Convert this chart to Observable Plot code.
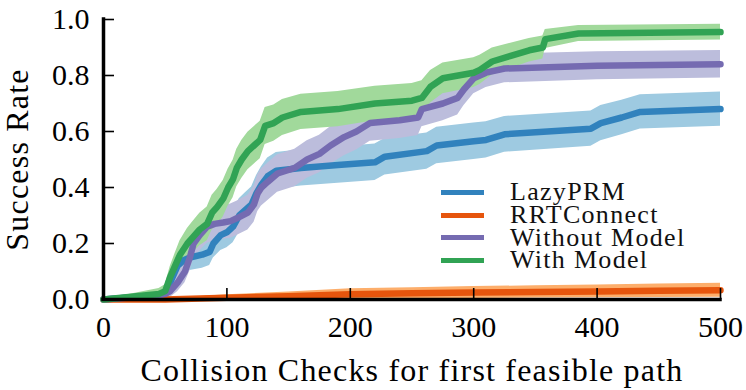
<!DOCTYPE html>
<html>
<head>
<meta charset="utf-8">
<script src="https://cdn.jsdelivr.net/npm/d3@7"></script>
<script src="https://cdn.jsdelivr.net/npm/@observablehq/plot@0.6"></script>
<style>
  html, body { margin: 0; padding: 0; background: white; }
  #wrap { position: relative; width: 746px; height: 390px; }
  #legend { position: absolute; left: 441px; top: 181px; font-family: "Liberation Serif", "Times New Roman", "DejaVu Serif", serif; font-size: 26px; letter-spacing: 1.3px; color: #111; }
  .row { display: flex; align-items: center; height: 22.8px; white-space: nowrap; }
  .sw { width: 43px; height: 5px; margin-right: 26px; flex: none; }
  .lab { display: inline-block; height: 22.8px; line-height: 22.8px; }
</style>
</head>
<body>
<div id="wrap"></div>
<script>
// ---- data ----
const seriesNames = ["LazyPRM", "RRTConnect", "Without Model", "With Model"];
const lineColors = ["#3182bd", "#e6550d", "#756bb1", "#31a354"];
const bandColors = ["#9ecae1", "#fdae6b", "#bcbddc", "#a1d99b"];

const xTicks = [0, 100, 200, 300, 400, 500];
const yTicks = [0, 0.2, 0.4, 0.6, 0.8, 1.0];

const lazyX = [0, 45, 50, 55, 60, 65, 70, 80, 86, 89, 95, 100, 105, 110, 115, 120, 124, 128, 133, 140, 160, 190, 220, 228, 262, 270, 300, 310, 325, 395, 403, 420, 435, 500];
const lazyY = [0, 0.015, 0.02, 0.07, 0.12, 0.14, 0.15, 0.16, 0.17, 0.20, 0.23, 0.24, 0.26, 0.30, 0.32, 0.34, 0.38, 0.41, 0.44, 0.46, 0.47, 0.48, 0.49, 0.51, 0.53, 0.55, 0.565, 0.57, 0.59, 0.61, 0.63, 0.65, 0.67, 0.68];
const lazyErr = [0, 0.016, 0.018, 0.033, 0.042, 0.045, 0.046, 0.048, 0.049, 0.052, 0.055, 0.055, 0.057, 0.06, 0.061, 0.062, 0.063, 0.064, 0.065, 0.065, 0.065, 0.065, 0.065, 0.065, 0.065, 0.065, 0.065, 0.065, 0.064, 0.063, 0.063, 0.062, 0.061, 0.061];

const rrtX = [0, 50, 100, 150, 200, 250, 300, 350, 400, 450, 500];
const rrtY = [0, 0, 0.006, 0.012, 0.019, 0.022, 0.025, 0.027, 0.029, 0.031, 0.033];
const rrtErr = [0, 0.003, 0.011, 0.015, 0.019, 0.02, 0.021, 0.022, 0.023, 0.024, 0.025];

const woX = [0, 45, 50, 54, 60, 66, 70, 73, 78, 84, 90, 97, 103, 108, 117, 122, 125, 128, 133, 141, 155, 165, 175, 184, 195, 205, 216, 240, 255, 258, 275, 287, 292, 300, 310, 325, 400, 500];
const woY = [0, 0.015, 0.02, 0.03, 0.06, 0.10, 0.15, 0.20, 0.23, 0.26, 0.27, 0.275, 0.28, 0.29, 0.31, 0.34, 0.38, 0.40, 0.42, 0.45, 0.47, 0.50, 0.52, 0.55, 0.58, 0.60, 0.63, 0.64, 0.65, 0.68, 0.70, 0.72, 0.75, 0.79, 0.81, 0.825, 0.835, 0.84];
const woErr = [0, 0.016, 0.019, 0.023, 0.032, 0.04, 0.048, 0.054, 0.057, 0.059, 0.06, 0.06, 0.061, 0.061, 0.062, 0.064, 0.066, 0.066, 0.067, 0.067, 0.067, 0.067, 0.067, 0.067, 0.067, 0.066, 0.065, 0.065, 0.064, 0.063, 0.062, 0.061, 0.058, 0.055, 0.053, 0.051, 0.05, 0.049];

const wX = [0, 45, 50, 54, 58, 62, 68, 72, 78, 84, 88, 92, 97, 101, 105, 108, 112, 117, 122, 127, 131, 138, 145, 160, 190, 220, 250, 258, 265, 275, 300, 305, 315, 330, 345, 356, 358, 385, 500];
const wY = [0, 0.02, 0.03, 0.08, 0.12, 0.16, 0.20, 0.22, 0.25, 0.27, 0.31, 0.33, 0.36, 0.40, 0.43, 0.47, 0.50, 0.53, 0.55, 0.57, 0.62, 0.63, 0.65, 0.67, 0.68, 0.70, 0.71, 0.72, 0.76, 0.79, 0.81, 0.82, 0.85, 0.87, 0.89, 0.90, 0.93, 0.95, 0.955];
const wErr = [0, 0.019, 0.023, 0.037, 0.044, 0.05, 0.054, 0.056, 0.058, 0.06, 0.062, 0.063, 0.065, 0.066, 0.067, 0.067, 0.068, 0.067, 0.067, 0.067, 0.066, 0.065, 0.064, 0.063, 0.063, 0.062, 0.061, 0.061, 0.058, 0.055, 0.053, 0.052, 0.048, 0.045, 0.042, 0.041, 0.034, 0.029, 0.028];

// ---- build table ----
const rawSeries = [
  [lazyX, lazyY, lazyErr],
  [rrtX, rrtY, rrtErr],
  [woX, woY, woErr],
  [wX, wY, wErr]
];
const tables = rawSeries.map(([xs, ys, es], i) =>
  xs.map((x, j) => ({
    series: seriesNames[i],
    x,
    y: ys[j],
    lo: Math.max(0, ys[j] - es[j]),
    hi: Math.min(1, ys[j] + es[j])
  }))
);

const W = 746, H = 390;
const mL = 103, mR = 26, mT = 19, mB = 91;
const innerW = W - mL - mR, innerH = H - mT - mB;
const tickLen = 11;
const font = "'Liberation Serif', 'Times New Roman', 'DejaVu Serif', serif";

const marks = [];
tables.forEach((t, i) => {
  marks.push(Plot.areaY(t, {x: "x", y1: "lo", y2: "hi", fill: bandColors[i], clip: true}));
});
tables.forEach((t, i) => {
  marks.push(Plot.lineY(t, {x: "x", y: "y", stroke: lineColors[i], strokeWidth: 6.5}));
});
// inward ticks
marks.push(Plot.tickX(xTicks, {x: d => d, insetTop: innerH - tickLen, stroke: "black", strokeWidth: 1.6}));
marks.push(Plot.tickY(yTicks, {y: d => d, insetRight: innerW - tickLen, stroke: "black", strokeWidth: 1.6}));
// spines
marks.push(Plot.ruleX([0], {stroke: "black", strokeWidth: 3.5, strokeLinecap: "square"}));
marks.push(Plot.ruleY([0], {stroke: "black", strokeWidth: 3.5, strokeLinecap: "square"}));
// axes labels
marks.push(Plot.axisX({ticks: xTicks, tickSize: 0, tickPadding: 16, fontSize: 30,
  label: "Collision Checks for first feasible path", labelAnchor: "center", labelOffset: 81, labelArrow: "none"}));
marks.push(Plot.axisY({ticks: yTicks, tickSize: 0, tickPadding: 14, fontSize: 30, tickFormat: d3.format(".1f"),
  label: "Success Rate", labelAnchor: "center", labelOffset: 98, labelArrow: "none"}));

const chart = Plot.plot({
  width: W, height: H,
  marginLeft: mL, marginRight: mR, marginTop: mT, marginBottom: mB,
  x: {domain: [0, 500]},
  y: {domain: [0, 1]},
  style: {fontFamily: font, fontSize: "30px", background: "white", color: "black"},
  marks
});
const wrap = document.getElementById("wrap");
wrap.appendChild(chart);
// axis label styling
d3.select(chart).selectAll("[aria-label='x-axis label'] text, [aria-label='y-axis label'] text")
  .style("font-size", "32px").style("letter-spacing", "1.2px");

// legend
const legend = document.createElement("div");
legend.id = "legend";
seriesNames.forEach((name, i) => {
  const row = document.createElement("div");
  row.className = "row";
  const sw = document.createElement("div");
  sw.className = "sw";
  sw.style.background = lineColors[i];
  const tx = document.createElement("span");
  tx.className = "lab";
  tx.textContent = name;
  row.appendChild(sw);
  row.appendChild(tx);
  legend.appendChild(row);
});
wrap.appendChild(legend);
</script>
</body>
</html>
